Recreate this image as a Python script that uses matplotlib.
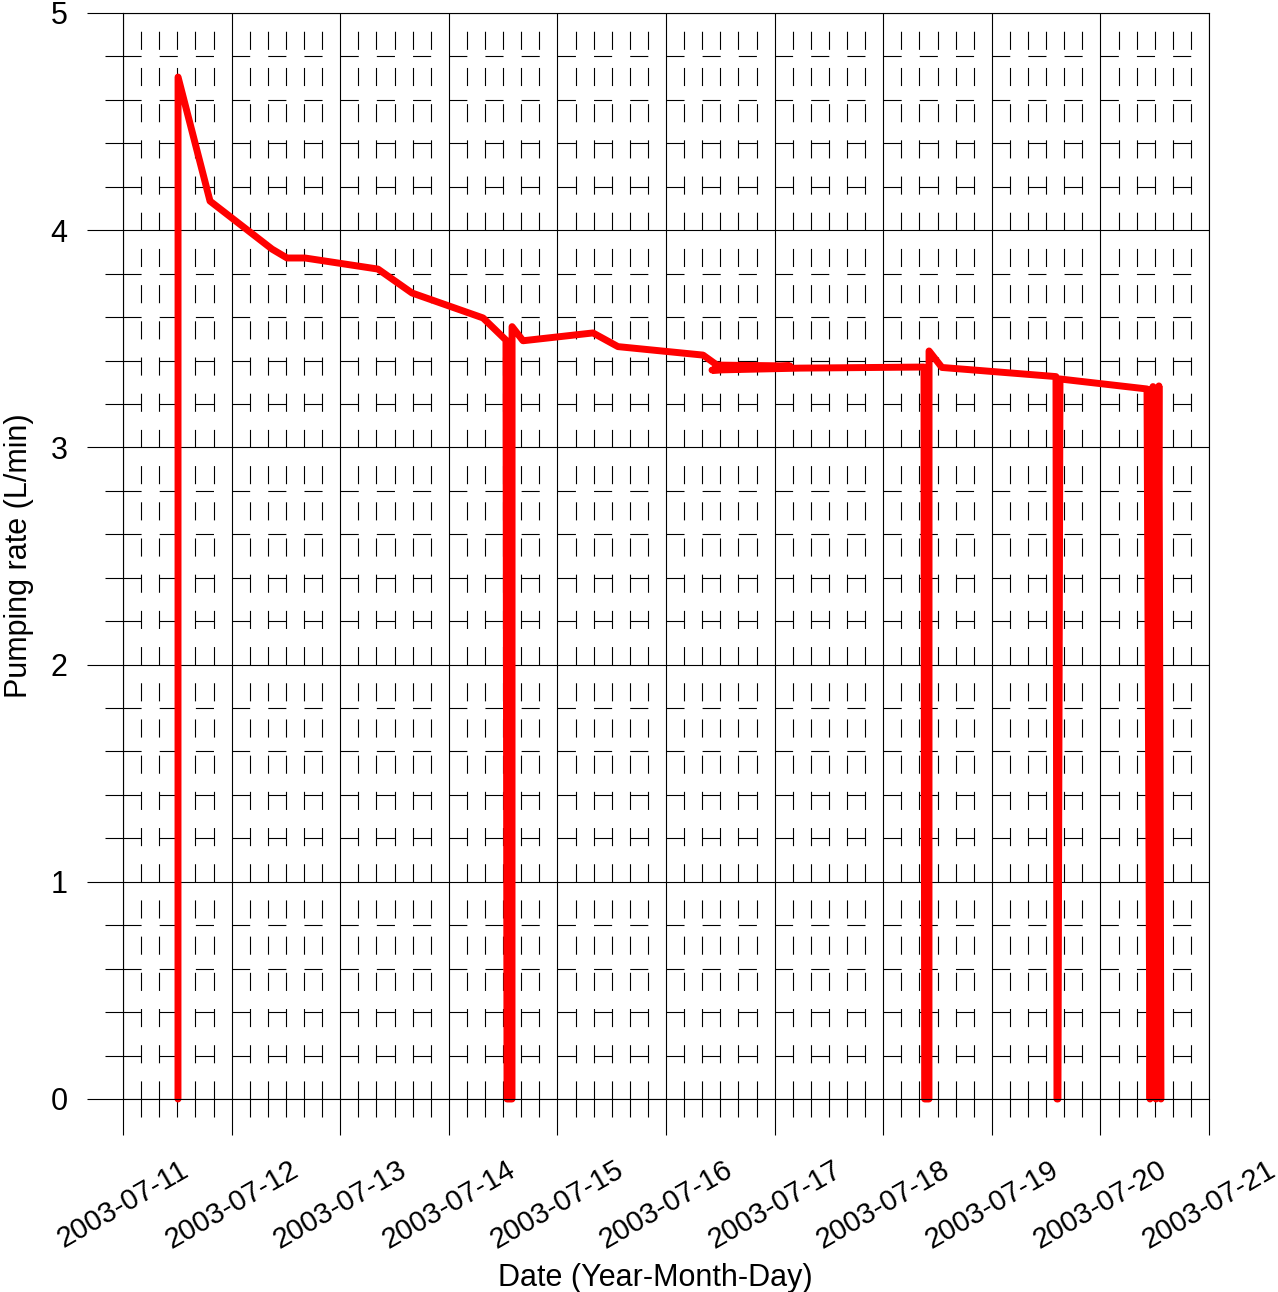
"""Pumping rate during the July 2003 test"""
import numpy as np
import pandas as pd
import matplotlib
matplotlib.use('Agg')
import matplotlib.pyplot as plt
import matplotlib.dates as mdates
from matplotlib.ticker import MultipleLocator

plt.rcParams['font.family'] = ['Liberation Sans', 'DejaVu Sans']
plt.rcParams['lines.scale_dashes'] = False

# times
times = ['2003-07-11 12:09', '2003-07-11 12:10', '2003-07-11 19:14',
         '2003-07-12 08:56', '2003-07-12 12:15', '2003-07-12 16:13',
         '2003-07-13 08:21', '2003-07-13 15:52', '2003-07-14 07:34',
         '2003-07-14 12:38', '2003-07-14 12:52', '2003-07-14 13:58',
         '2003-07-14 13:59', '2003-07-14 16:24', '2003-07-15 07:52',
         '2003-07-15 13:23', '2003-07-16 08:11', '2003-07-16 11:16',
         '2003-07-17 03:24', '2003-07-16 10:10', '2003-07-17 05:37',
         '2003-07-18 09:01', '2003-07-18 09:10', '2003-07-18 10:07',
         '2003-07-18 10:08', '2003-07-18 12:59', '2003-07-19 14:11',
         '2003-07-19 14:24', '2003-07-19 14:37', '2003-07-19 15:04',
         '2003-07-20 10:18', '2003-07-20 10:58', '2003-07-20 11:37',
         '2003-07-20 12:17', '2003-07-20 12:56', '2003-07-20 13:23']
# pumping rate in L/min
rates = [0.0, 4.705, 4.134,
         3.913, 3.872, 3.872,
         3.821, 3.711, 3.596,
         3.494, 0.0, 0.0,
         3.556, 3.491, 3.527,
         3.464, 3.425, 3.379,
         3.375, 3.356, 3.365,
         3.370, 0.0, 0.0,
         3.444, 3.368, 3.326,
         0.0, 0.0, 3.315,
         3.269, 0.0, 3.280,
         0.0, 3.283, 0.0]

x_start = '2003-07-11'
x_end = '2003-07-21'
y_min = 0
y_max = 5


def style_axes(axes):
    """Sets the ticks and the grid of the axes"""
    axes.set_xlim(pd.Timestamp(x_start), pd.Timestamp(x_end))
    axes.set_ylim(y_min, y_max)
    axes.xaxis.set_major_locator(mdates.DayLocator())
    axes.xaxis.set_minor_locator(mdates.HourLocator(byhour=[4, 8, 12, 16, 20]))
    axes.xaxis.set_major_formatter(mdates.DateFormatter('%Y-%m-%d'))
    axes.yaxis.set_major_locator(MultipleLocator(1))
    axes.yaxis.set_minor_locator(MultipleLocator(0.2))
    axes.tick_params(which='major', direction='out', length=26, width=0.8,
                     color='black', labelsize=22)
    axes.tick_params(which='minor', direction='out', length=13, width=0.8,
                     color='black')
    axes.tick_params(axis='y', which='major', pad=14)
    axes.tick_params(axis='x', which='major', pad=15, labelsize=21)
    axes.grid(True, which='major', color='black', linewidth=0.8)
    axes.grid(True, which='minor', color='black', linewidth=0.8,
              linestyle=(0, (13.03, 13.03)))
    axes.set_axisbelow(True)
    for label in axes.get_xticklabels():
        label.set_rotation(30)
        label.set_ha('center')
    for spine in axes.spines.values():
        spine.set_linewidth(0.8)
        spine.set_color('black')


fig = plt.figure(figsize=(12.78, 12.92), dpi=100)
axes = fig.add_axes([123 / 1278, 193 / 1292, 1086 / 1278, 1086 / 1292])
style_axes(axes)
axes.plot(pd.to_datetime(times), rates, color='#ff0000', linewidth=5,
          solid_capstyle='round', solid_joinstyle='round', clip_on=False)
axes.set_xlabel('Date (Year-Month-Day)', fontsize=22, labelpad=6)
axes.xaxis.label.set_x(0.49)
axes.set_ylabel('Pumping rate (L/min)', fontsize=22, labelpad=12)
fig.savefig('out.png', dpi=100)
